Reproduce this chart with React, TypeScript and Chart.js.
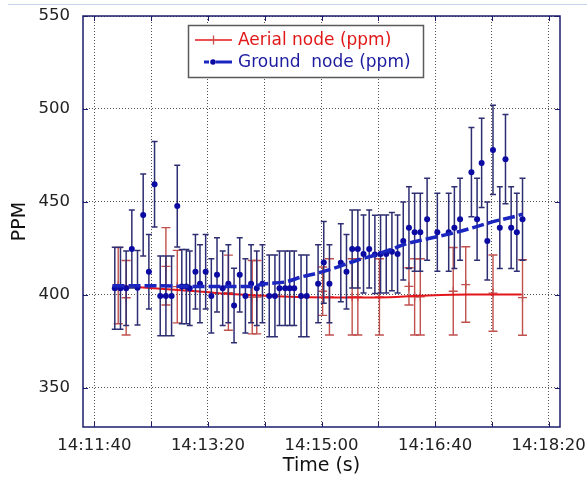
import React, { useEffect, useRef } from 'react';
import { Chart, registerables } from 'chart.js';

Chart.register(...registerables);

// ---------- data ----------
const xTickLabels = ['14:11:40', '14:13:20', '14:15:00', '14:16:40', '14:18:20'];
const xGridStepSec = 50;
const xRange = ['14:11:30', '14:18:30'];
const yTickValues = [350, 400, 450, 500, 550];
const yRange = [329, 550];

const groundTimes = [
  '14:11:58', '14:12:03', '14:12:08', '14:12:13', '14:12:18', '14:12:23', '14:12:28', '14:12:33',
  '14:12:38', '14:12:43', '14:12:48', '14:12:53', '14:12:57', '14:13:01', '14:13:04', '14:13:09',
  '14:13:13', '14:13:18', '14:13:23', '14:13:28', '14:13:33', '14:13:38', '14:13:43', '14:13:48',
  '14:13:53', '14:13:58', '14:14:03', '14:14:08', '14:14:14', '14:14:19', '14:14:23', '14:14:28',
  '14:14:32', '14:14:36', '14:14:42', '14:14:47', '14:14:57', '14:15:02', '14:15:07', '14:15:17',
  '14:15:22', '14:15:27', '14:15:32', '14:15:37', '14:15:42', '14:15:47', '14:15:52', '14:15:57',
  '14:16:02', '14:16:07', '14:16:12', '14:16:17', '14:16:22', '14:16:27', '14:16:33', '14:16:42',
  '14:16:52', '14:16:57', '14:17:02', '14:17:12', '14:17:17', '14:17:21', '14:17:26', '14:17:31',
  '14:17:37', '14:17:42', '14:17:47', '14:17:52', '14:17:57',
];
const groundPpm = [
  403.6, 403.6, 403.6, 424.7, 403.9, 443, 412.5, 459.5,
  399.5, 399.5, 399.5, 447.8, 404.5, 404.5, 403.6, 412.5,
  406, 412.5, 399.5, 410.8, 403.6, 406, 394.3, 410.8,
  399.5, 406, 403.6, 406, 399.5, 399.5, 403.6, 403.6,
  403.6, 403.6, 399.5, 399.5, 406, 417.5, 406, 417.3,
  412.5, 424.7, 424.7, 422, 424.7, 421.8, 422, 422,
  423.3, 422, 429, 436.2, 433.7, 433.7, 440.7, 433.7,
  433.7, 436.2, 440.7, 466, 440.7, 471, 429, 478,
  436.2, 473, 436.2, 433.7, 440.7,
];
const groundErr = [
  22, 22, 20, 21, 20, 22, 20, 23,
  21.5, 21.5, 21.5, 22, 20, 20, 20, 20,
  21, 20, 20, 20, 20, 21, 20, 20,
  20, 21, 20, 21, 22, 22, 20, 20,
  20, 20, 22, 22, 21, 22, 21, 21,
  20, 21, 21, 21, 21, 21, 21, 21,
  21, 21, 21, 22, 21, 21, 22, 21,
  21, 22, 22, 24, 22, 24, 21, 24,
  22, 24, 22, 21, 22,
];

const groundTrendTimes = [
  '14:11:56', '14:12:29', '14:13:13', '14:13:57', '14:14:10', '14:14:28', '14:14:43', '14:14:58',
  '14:15:14', '14:15:23', '14:15:32', '14:15:47', '14:16:00', '14:16:14', '14:16:29', '14:16:54',
  '14:17:18', '14:17:31', '14:17:52', '14:17:57',
];
const groundTrendPpm = [
  405, 405, 404.5, 404.5, 406, 407, 409.8, 412,
  415, 417, 418.8, 421.5, 424.2, 427.4, 429.6, 433,
  437, 439.4, 442.5, 443.5,
];

const aerialTimes = [
  '14:12:01', '14:12:08', '14:12:43', '14:12:53', '14:13:38', '14:13:59', '14:14:03', '14:15:01',
  '14:15:07', '14:15:27', '14:15:32', '14:15:51', '14:16:17', '14:16:22', '14:16:27', '14:16:56',
  '14:17:07', '14:17:31', '14:17:57',
];
const aerialPpm = [
  405, 398.5, 415.4, 404.5, 401.2, 398.8, 398.8, 402,
  399, 399, 399, 399, 404.6, 399, 399, 402,
  405.6, 401, 398.6,
];
const aerialErr = [
  20.5, 20, 20.8, 19.5, 20.2, 19.7, 19.7, 13,
  20.5, 20.5, 20.5, 20.5, 10, 20.5, 20.5, 23.5,
  20.3, 20.5, 20.3,
];

const aerialTrendTimes = [
  '14:11:56', '14:12:29', '14:13:13', '14:13:48', '14:14:26', '14:15:07', '14:15:51', '14:16:26',
  '14:17:10', '14:17:56',
];
const aerialTrendPpm = [405.2, 403.8, 401.8, 400.2, 399.2, 398.7, 398.7, 399.6, 400.3, 400.3];

const legendLabels = ['Aerial node (ppm)', 'Ground  node (ppm)'];
const xTitle = 'Time (s)';
const yTitle = 'PPM';

// ---------- helpers ----------
const FONT = "'DejaVu Sans', sans-serif";
const RED = '#e4161c';
const RED_BAR = '#c0504d';
const BLUE = '#1a26bf';
const BLUE_DOT = '#0b0ba3';
const BLUE_BAR = '#2e2e72';
const FRAME = '#1c1c6c';

function toSec(s: string): number {
  const [h, m, sec] = s.split(':').map(Number);
  return h * 3600 + m * 60 + sec;
}
function fmt(v: number): string {
  const h = Math.floor(v / 3600);
  const m = Math.floor((v % 3600) / 60);
  const s = Math.round(v % 60);
  const p = (n: number) => String(n).padStart(2, '0');
  return `${h}:${p(m)}:${p(s)}`;
}
const pts = (times: string[], vals: number[]) => times.map((t, i) => ({ x: toSec(t), y: vals[i] }));

const labelSecs = xTickLabels.map(toSec);
const xGridValues: number[] = [];
for (let v = labelSecs[0]; v <= labelSecs[labelSecs.length - 1]; v += xGridStepSec) xGridValues.push(v);

const errorBarsPlugin = {
  id: 'errorBars',
  beforeDatasetDraw(chart: any, args: any) {
    const ds = chart.data.datasets[args.index];
    if (!ds.errors) return;
    const yScale = chart.scales.y;
    const ctx = chart.ctx;
    const cap = ds.errorCap;
    ctx.save();
    ctx.strokeStyle = ds.errorColor;
    ctx.lineWidth = ds.errorWidth;
    args.meta.data.forEach((pt: any, i: number) => {
      const v = ds.data[i].y;
      const e = ds.errors[i];
      const x = pt.x;
      const yt = yScale.getPixelForValue(v + e);
      const yb = yScale.getPixelForValue(v - e);
      ctx.beginPath();
      ctx.moveTo(x, yt);
      ctx.lineTo(x, yb);
      ctx.moveTo(x - cap, yt);
      ctx.lineTo(x + cap, yt);
      ctx.moveTo(x - cap, yb);
      ctx.lineTo(x + cap, yb);
      ctx.stroke();
    });
    ctx.restore();
  },
};

const decorPlugin = {
  id: 'decor',
  beforeDraw(chart: any) {
    const ctx = chart.ctx;
    ctx.save();
    ctx.strokeStyle = '#c5d3ea';
    ctx.lineWidth = 1;
    ctx.beginPath();
    ctx.moveTo(8, 4.5);
    ctx.lineTo(chart.width, 4.5);
    ctx.stroke();
    ctx.restore();
  },
  afterDraw(chart: any) {
    const ctx = chart.ctx;
    const { left, right, top, bottom } = chart.chartArea;
    const xs = chart.scales.x;
    const ys = chart.scales.y;
    ctx.save();
    // inner tick marks
    ctx.strokeStyle = FRAME;
    ctx.lineWidth = 1;
    ctx.beginPath();
    yTickValues.forEach((v) => {
      const y = Math.round(ys.getPixelForValue(v)) + 0.5;
      ctx.moveTo(left, y);
      ctx.lineTo(left + 5, y);
      ctx.moveTo(right, y);
      ctx.lineTo(right - 5, y);
    });
    xGridValues.forEach((v) => {
      const x = Math.round(xs.getPixelForValue(v)) + 0.5;
      ctx.moveTo(x, top);
      ctx.lineTo(x, top + 5);
      ctx.moveTo(x, bottom);
      ctx.lineTo(x, bottom - 5);
    });
    ctx.stroke();
    // frame
    ctx.lineWidth = 1.5;
    ctx.strokeRect(left, top, right - left, bottom - top);

    // legend
    const bx = 188.5, by = 25.5, bw = 235, bh = 52;
    ctx.fillStyle = '#ffffff';
    ctx.fillRect(bx, by, bw, bh);
    ctx.strokeStyle = '#5a5a5a';
    ctx.lineWidth = 1.5;
    ctx.strokeRect(bx, by, bw, bh);

    const y1 = 40, y2 = 62;
    ctx.strokeStyle = RED;
    ctx.lineWidth = 1.5;
    ctx.beginPath();
    ctx.moveTo(195, y1);
    ctx.lineTo(232, y1);
    ctx.stroke();
    ctx.strokeStyle = RED_BAR;
    ctx.lineWidth = 1.3;
    ctx.beginPath();
    ctx.moveTo(213.5, y1 - 4.5);
    ctx.lineTo(213.5, y1 + 4.5);
    ctx.stroke();

    ctx.strokeStyle = BLUE;
    ctx.lineWidth = 3;
    ctx.beginPath();
    ctx.moveTo(204, y2);
    ctx.lineTo(209, y2);
    ctx.moveTo(216, y2);
    ctx.lineTo(232, y2);
    ctx.stroke();
    ctx.fillStyle = BLUE_DOT;
    ctx.beginPath();
    ctx.arc(213, y2, 2.8, 0, Math.PI * 2);
    ctx.fill();

    ctx.font = `17px ${FONT}`;
    ctx.textBaseline = 'middle';
    ctx.textAlign = 'left';
    ctx.fillStyle = '#e01818';
    ctx.fillText(legendLabels[0], 238, y1 + 1);
    ctx.fillStyle = '#1c1ca0';
    ctx.fillText(legendLabels[1], 238, y2 + 1);
    ctx.restore();
  },
};

export default function App() {
  const ref = useRef<HTMLCanvasElement | null>(null);

  useEffect(() => {
    if (!ref.current) return;
    const tickFont = { family: FONT, size: 16.5 };
    const chart = new Chart(ref.current, {
      type: 'scatter',
      data: {
        datasets: [
          {
            label: 'Ground trend',
            data: pts(groundTrendTimes, groundTrendPpm),
            showLine: true,
            borderColor: BLUE,
            borderWidth: 3.5,
            borderDash: [12, 4],
            pointRadius: 0,
            cubicInterpolationMode: 'monotone',
            fill: false,
          },
          {
            label: legendLabels[1],
            data: pts(groundTimes, groundPpm),
            showLine: false,
            pointRadius: 3,
            pointBackgroundColor: BLUE_DOT,
            pointBorderWidth: 0,
            errors: groundErr,
            errorColor: BLUE_BAR,
            errorWidth: 1.5,
            errorCap: 3,
          } as any,
          {
            label: 'Aerial trend',
            data: pts(aerialTrendTimes, aerialTrendPpm),
            showLine: true,
            borderColor: RED,
            borderWidth: 2,
            pointRadius: 0,
            cubicInterpolationMode: 'monotone',
            fill: false,
          },
          {
            label: legendLabels[0],
            data: pts(aerialTimes, aerialPpm),
            showLine: false,
            pointStyle: 'cross',
            pointRadius: 4.5,
            pointBorderColor: RED_BAR,
            pointBorderWidth: 1.3,
            errors: aerialErr,
            errorColor: RED_BAR,
            errorWidth: 1.4,
            errorCap: 4.5,
          } as any,
        ],
      },
      options: {
        responsive: false,
        animation: false,
        layout: { padding: { left: 0, top: 16, right: 27, bottom: 0 } },
        plugins: { legend: { display: false }, tooltip: { enabled: false } },
        scales: {
          x: {
            type: 'linear',
            min: toSec(xRange[0]),
            max: toSec(xRange[1]),
            afterBuildTicks: (s: any) => {
              s.ticks = xGridValues.map((v) => ({ value: v }));
            },
            afterFit: (s: any) => {
              s.height = 50;
              s.paddingLeft = 0;
              s.paddingRight = 0;
            },
            ticks: {
              autoSkip: false,
              maxRotation: 0,
              padding: 9,
              color: '#222',
              font: tickFont,
              callback: (v: any) => (labelSecs.includes(Number(v)) ? fmt(Number(v)) : ''),
            },
            grid: { color: '#555', lineWidth: 1, drawTicks: false },
            border: { display: false, dash: [1, 2] },
            title: {
              display: true,
              text: xTitle,
              color: '#111',
              font: { family: FONT, size: 19, lineHeight: 1.1 },
              padding: { top: 0, bottom: 0 },
            },
          },
          y: {
            type: 'linear',
            min: yRange[0],
            max: yRange[1],
            afterBuildTicks: (s: any) => {
              s.ticks = yTickValues.map((v) => ({ value: v }));
            },
            afterFit: (s: any) => {
              s.width = 83;
              s.paddingTop = 0;
              s.paddingBottom = 0;
            },
            ticks: { padding: 13, color: '#222', font: tickFont },
            grid: { color: '#555', lineWidth: 1, drawTicks: false },
            border: { display: false, dash: [1, 2] },
            title: {
              display: true,
              text: yTitle,
              color: '#111',
              font: { family: FONT, size: 19, lineHeight: 1.2 },
              padding: { top: 8.5, bottom: 0 },
            },
          },
        },
      } as any,
      plugins: [errorBarsPlugin, decorPlugin],
    });
    return () => chart.destroy();
  }, []);

  return (
    <div style={{ position: 'absolute', left: 0, top: 0, width: 587, height: 477, background: '#fff' }}>
      <canvas ref={ref} width={587} height={477} style={{ display: 'block' }} />
    </div>
  );
}
